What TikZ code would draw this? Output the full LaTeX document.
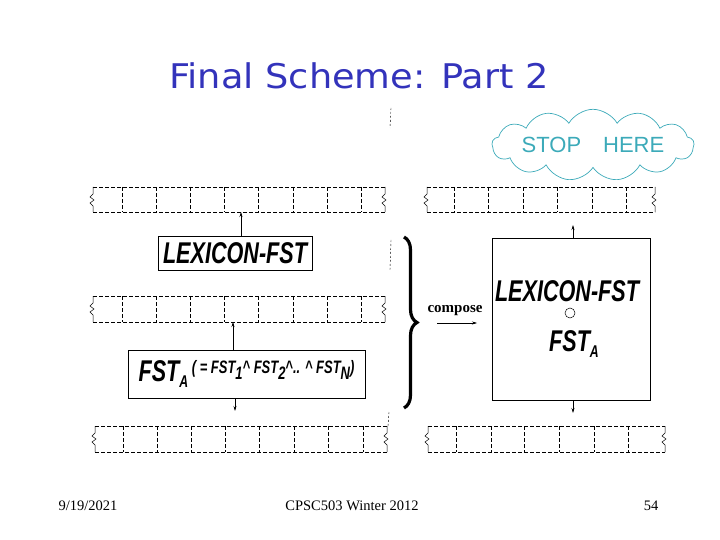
\documentclass[tikz,border=0pt]{standalone}
\usepackage{fontspec}
\setmainfont{Liberation Serif}
\setsansfont{Liberation Sans}
\newfontfamily\titlefont{DejaVu Sans}
\usetikzlibrary{arrows.meta,decorations.pathreplacing,shapes.symbols}

\definecolor{titleblue}{RGB}{51,51,187}
\definecolor{stopcyan}{RGB}{60,170,185}

\tikzset{
  tapeline/.style={line width=0.6pt, dash pattern=on 4pt off 2pt},
  fstbox/.style={draw, line width=0.6pt, inner sep=0pt},
  tapearrow/.style={-{Stealth[length=5pt,width=3pt]}, line width=0.6pt},
}

\newcommand{\fstfont}{\sffamily\bfseries\itshape}

% tape: left x, right x, top y, bottom y, cell borders
\newcommand{\tapeband}[5]{%
  \draw[tapeline] (#1,#3) -- (#2,#3);
  \draw[tapeline] (#1,#4) -- (#2,#4);
  \foreach \cx in {#5} \draw[tapeline] (\cx,#3) -- (\cx,#4);
  \draw[line width=0.5pt] (#1,#3) -- ++(0,7) -- ++(-3,3) -- ++(4,3) -- ++(-4,3) -- ++(3,3) -- (#1,#4);
  \draw[line width=0.5pt] (#2,#3) -- ++(0,7) -- ++(-3,3) -- ++(4,3) -- ++(-4,3) -- ++(3,3) -- (#2,#4);
}

\begin{document}
\begin{tikzpicture}[x=1pt,y=-1pt]
  \useasboundingbox (0,0) rectangle (720,540);

  % --- title ---
  \node[anchor=base, text=titleblue, font={\titlefont\fontsize{34}{34}\selectfont}] (title) at (359,89)
    {\scalebox{1.08}[1]{Final Scheme: Part 2}};

  % --- stop here ---
  \node[cloud, draw=stopcyan, line width=0.7pt, cloud puffs=13, cloud puff arc=120, aspect=4.5,
        inner sep=0pt, minimum width=195pt, minimum height=40pt, text=stopcyan,
        font={\sffamily\fontsize{22}{22}\selectfont}] (stopnote) at (593,145) {STOP\hspace{22pt}HERE};

  % --- tapes ---
  \tapeband{93}{385}{187}{212}{122,156,190,224,258,293,327,361}
  \tapeband{93}{385}{296}{322}{122,156,190,224,258,293,327,361}
  \tapeband{95}{387}{426}{452}{123,157,191,225,259,294,328,363}
  \tapeband{427}{655}{187}{212}{454,488,523,557,592,626}
  \tapeband{428}{665}{426}{452}{456,491,524,559,594,628}

  % --- LEXICON-FST ---
  \node[fstbox, minimum width=154pt, minimum height=34pt] (lexbox) at (235,253)
    {\scalebox{0.72}[1]{\fstfont\fontsize{30}{30}\selectfont LEXICON-FST}};
  \coordinate (lexout) at (241,212);
  \draw[tapearrow] (lexbox.north -| lexout) -- (lexout);

  % --- FST_A ---
  \node[fstbox, minimum width=237pt, minimum height=48pt] (fstabox) at (246.5,374)
    {\scalebox{0.72}[1]{\fstfont\fontsize{30}{30}\selectfont FST\raisebox{-6pt}{\fontsize{17}{17}\selectfont A}\hspace{5pt}%
     \raisebox{8pt}{\fontsize{18}{18}\selectfont ( = FST\raisebox{-6pt}{1}\textasciicircum{} FST\raisebox{-6pt}{2}\textasciicircum.. \textasciicircum{} FST\raisebox{-6pt}{N})}}};
  \coordinate (fstaup) at (233,322);
  \coordinate (fstadown) at (235,411);
  \draw[tapearrow] (fstabox.north -| fstaup) -- (fstaup);
  \draw[tapearrow] (fstabox.south -| fstadown) -- (fstadown);

  % --- brace and compose ---
  \draw[line width=3.2pt, decorate, decoration={brace, amplitude=13pt}] (404,237) -- (404,408);
  \node[font={\bfseries\fontsize{15}{15}\selectfont}] (compose) at (455,311) {compose};
  \coordinate (composeA) at (437,323);
  \coordinate (composeB) at (477,323);
  \draw[tapearrow, line width=0.5pt] (composeA) -- (composeB);

  % --- composed machine ---
  \node[fstbox, minimum width=158pt, minimum height=162pt] (bigbox) at (571,319) {};
  \node[font={\fstfont\fontsize{30}{30}\selectfont}] (biglex) at (567,291) {\scalebox{0.72}[1]{LEXICON-FST}};
  \node[draw, circle, minimum size=10pt, inner sep=0pt, line width=0.5pt] (compcirc) at (570,313) {};
  \node[font={\fstfont\fontsize{30}{30}\selectfont}] (bigfsta) at (574,344)
    {\scalebox{0.72}[1]{FST\raisebox{-6pt}{\fontsize{17}{17}\selectfont A}}};
  \coordinate (bigup) at (573,225);
  \coordinate (bigdown) at (573,413);
  \draw[tapearrow] (bigbox.north -| bigup) -- (bigup);
  \draw[tapearrow] (bigbox.south -| bigdown) -- (bigdown);

  % --- loose tape ends ---
  \draw[line width=0.4pt, dash pattern=on 2pt off 2pt] (391,108) -- (390,128);
  \draw[line width=0.4pt, dash pattern=on 2pt off 2pt] (391,240) -- (390,270);
  \draw[line width=0.4pt, dash pattern=on 2pt off 2pt] (389,412) -- (388,426);

  % --- footer ---
  \node[anchor=base, font={\fontsize{14.5}{14.5}\selectfont}] (fdate) at (88,510) {9/19/2021};
  \node[anchor=base, font={\fontsize{14.5}{14.5}\selectfont}] (fcourse) at (352,510) {CPSC503 Winter 2012};
  \node[anchor=base, font={\fontsize{14.5}{14.5}\selectfont}] (fpage) at (651,510) {54};
\end{tikzpicture}
\end{document}
